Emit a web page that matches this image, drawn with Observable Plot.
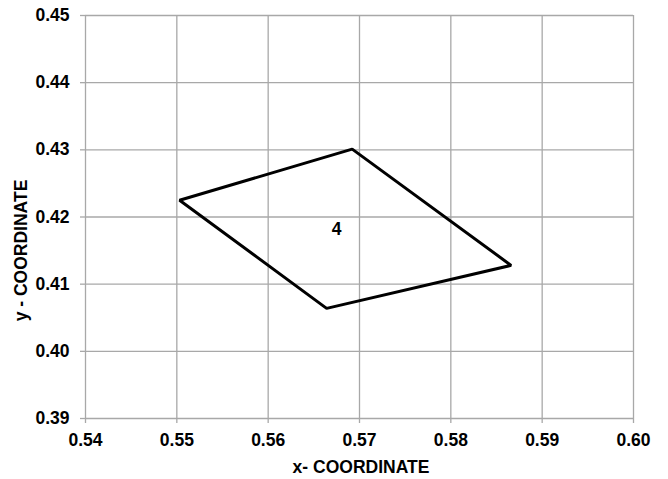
<!DOCTYPE html>
<html><head><meta charset="utf-8">
<script src="https://cdn.jsdelivr.net/npm/d3@7"></script>
<script src="https://cdn.jsdelivr.net/npm/@observablehq/plot@0.6"></script>
<style>body{margin:0;background:#fff}</style>
</head><body><div id="chart"></div>
<script>
// Polygon vertices (element 4)
const xs = [0.5503, 0.5692, 0.5866, 0.5664];
const ys = [0.4225, 0.4301, 0.4128, 0.4064];
// Element label
const labelText = ["4"];
const labelX = [0.5675];
const labelY = [0.4182];
// Axis ticks
const xTicks = [0.54, 0.55, 0.56, 0.57, 0.58, 0.59, 0.60];
const yTicks = [0.39, 0.40, 0.41, 0.42, 0.43, 0.44, 0.45];
const xTitle = "x- COORDINATE";
const yTitle = "y - COORDINATE";

const points = xs.map((x, i) => ({x, y: ys[i]}));
const labels = labelText.map((t, i) => ({t, x: labelX[i], y: labelY[i]}));
const gridColor = "#a8a8a8";
const font = "'Liberation Sans', Arial, sans-serif";

const chart = Plot.plot({
  width: 668, height: 479,
  marginLeft: 85, marginRight: 35, marginTop: 15, marginBottom: 61,
  style: {fontFamily: font, fontSize: "17.5px", fontWeight: "bold", background: "white", color: "black", overflow: "visible"},
  x: {domain: [0.54, 0.60], label: null},
  y: {domain: [0.39, 0.45], label: null},
  marks: [
    Plot.gridX(xTicks, {stroke: gridColor, strokeOpacity: 1, strokeWidth: 1.3}),
    Plot.gridY(yTicks, {stroke: gridColor, strokeOpacity: 1, strokeWidth: 1.3}),
    Plot.axisX(xTicks, {tickSize: 5, tickPadding: 10, stroke: gridColor, strokeWidth: 1.3, fill: "black", tickFormat: d3.format(".2f"), label: null}),
    Plot.axisY(yTicks, {tickSize: 5, tickPadding: 11, stroke: gridColor, strokeWidth: 1.3, fill: "black", tickFormat: d3.format(".2f"), label: null}),
    Plot.line(points, {x: "x", y: "y", curve: "linear-closed", stroke: "black", strokeWidth: 3, strokeLinejoin: "miter"}),
    Plot.text(labels, {x: "x", y: "y", text: "t", fill: "black", fontSize: 17.5, fontWeight: "bold"})
  ]
});

const svg = d3.select(chart);
svg.append("text")
  .attr("x", 361).attr("y", 472.5)
  .attr("text-anchor", "middle")
  .attr("font-family", font).attr("font-size", "17.5px").attr("font-weight", "bold")
  .attr("fill", "black")
  .text(xTitle);
svg.append("text")
  .attr("transform", "translate(27,250.5) rotate(-90)")
  .attr("text-anchor", "middle")
  .attr("font-family", font).attr("font-size", "17.5px").attr("font-weight", "bold")
  .attr("fill", "black")
  .text(yTitle);

document.getElementById("chart").appendChild(chart);
</script>
</body></html>
